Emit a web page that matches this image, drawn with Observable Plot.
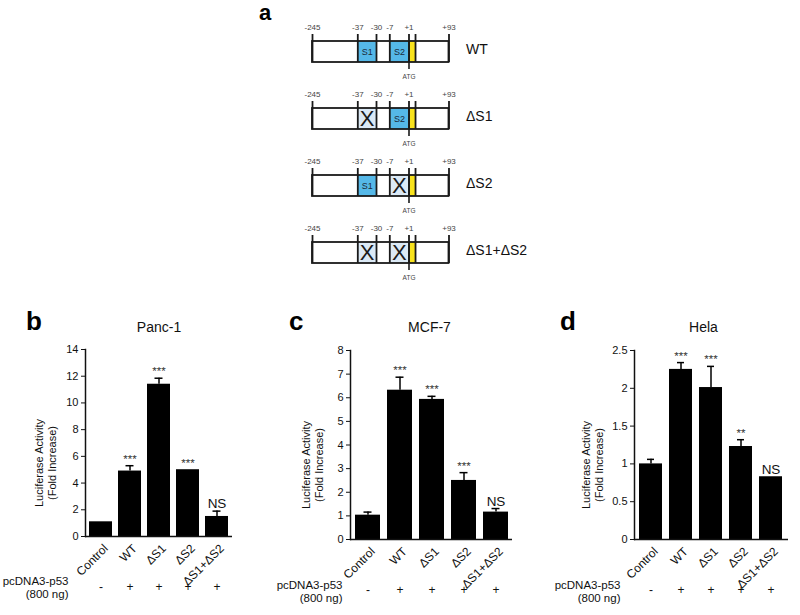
<!DOCTYPE html>
<html><head><meta charset="utf-8">
<script src="https://cdn.jsdelivr.net/npm/d3@7"></script>
<script src="https://cdn.jsdelivr.net/npm/@observablehq/plot@0.6"></script>
<style>
body{margin:0;background:#fff;font-family:"Liberation Sans",Arial,sans-serif;}
#fig{position:relative;width:800px;height:615px;overflow:hidden;background:#fff;}
.panel{position:absolute;}
.letter{position:absolute;font-weight:bold;line-height:1;color:#000;}
</style></head><body><div id="fig"></div>
<script>
// ---- panel a : promoter constructs ----
const constructs = ["WT","ΔS1","ΔS2","ΔS1+ΔS2"];
const s1Intact = [true,false,true,false];
const s2Intact = [true,true,false,false];
const boundaries = [-245,-37,-30,-7,1,93];
const boundaryLabels = ["-245","-37","-30","-7","+1","+93"];
const atgEnd = 16;

// ---- panels b-d : luciferase assays ----
const categories = ["Control","WT","ΔS1","ΔS2","ΔS1+ΔS2"];
const p53Signs = ["-","+","+","+","+"];
const panc1Mean = [1.1,4.9,11.4,5.0,1.5];
const panc1Err  = [0,0.4,0.45,0,0.4];
const panc1Sig  = ["","***","***","***","NS"];
const mcf7Mean  = [1.03,6.32,5.93,2.5,1.16];
const mcf7Err   = [0.13,0.55,0.13,0.33,0.15];
const mcf7Sig   = ["","***","***","***","NS"];
const helaMean  = [1.0,2.25,2.01,1.23,0.83];
const helaErr   = [0.06,0.09,0.28,0.09,0];
const helaSig   = ["","***","***","**","NS"];
const panc1Ticks = [0,2,4,6,8,10,12,14];
const mcf7Ticks  = [0,1,2,3,4,5,6,7,8];
const helaTicks  = [0,0.5,1,1.5,2,2.5];

const FONT = '"Liberation Sans", Arial, sans-serif';
const fig = document.getElementById("fig");

function place(el, left, top) {
  const wrap = document.createElement("div");
  wrap.className = "panel";
  wrap.style.left = left + "px";
  wrap.style.top = top + "px";
  wrap.appendChild(el);
  fig.appendChild(wrap);
}
function letter(t, left, top, size) {
  const d = document.createElement("div");
  d.className = "letter";
  d.textContent = t;
  d.style.left = left + "px";
  d.style.top = top + "px";
  d.style.fontSize = size + "px";
  fig.appendChild(d);
}

// ---------- Panel a ----------
const aRows = constructs.map((c,i)=>({row:c, s1:s1Intact[i], s2:s2Intact[i]}));
const segs = aRows.flatMap(d => [
  {row:d.row, x1:boundaries[1], x2:boundaries[2], intact:d.s1, name:"S1"},
  {row:d.row, x1:boundaries[3], x2:boundaries[4], intact:d.s2, name:"S2"}
]);
const edges = aRows.flatMap(d => [...boundaries, atgEnd].map(x=>({row:d.row, x})));
const bLabels = aRows.flatMap(d => boundaries.map((x,i)=>({row:d.row, x, label:boundaryLabels[i]})));

const panelA = Plot.plot({
  width: 800, height: 280, marginTop: 40, marginBottom: 17,
  style: {fontFamily: FONT, background: "transparent", color: "#000"},
  x: {type: "linear", domain: boundaries, range: [312,357.3,376,389.3,408.5,448.5], axis: null},
  y: {domain: constructs, paddingInner: 0.688, paddingOuter: 0, axis: null},
  marks: [
    Plot.barX(aRows, {y: "row", x1: () => boundaries[0], x2: () => boundaries[5], fill: "#fff"}),
    Plot.barX(segs, {y: "row", x1: "x1", x2: "x2", fill: d => d.intact ? "#55b8e8" : "#dbe9f5"}),
    Plot.barX(aRows, {y: "row", x1: () => boundaries[4], x2: () => atgEnd, fill: "#f8e21c"}),
    Plot.barX(aRows, {y: "row", x1: () => boundaries[0], x2: () => boundaries[5], fill: "none", stroke: "#1a1a1a", strokeWidth: 1.8}),
    Plot.tickX(edges, {x: "x", y: "row", stroke: "#1a1a1a", strokeWidth: 1.8, insetTop: -7}),
    Plot.tickX(aRows, {x: () => boundaries[4], y: "row", stroke: "#1a1a1a", strokeWidth: 1.6, insetBottom: -7}),
    Plot.text(segs.filter(d => d.intact), {x: d => (d.x1+d.x2)/2, y: "row", text: "name", fontSize: 9, fill: "#1b2a3a"}),
    Plot.text(segs.filter(d => !d.intact), {x: d => (d.x1+d.x2)/2, y: "row", text: () => "X", fontSize: 22, fill: "#1a1a1a"}),
    Plot.text(bLabels, {x: "x", y: "row", text: "label", dy: -25, fontSize: 8, fill: "#444"}),
    Plot.text(aRows, {x: () => boundaries[4], y: "row", text: () => "ATG", dy: 24.5, fontSize: 6.5, fill: "#444"}),
    Plot.text(aRows, {x: () => boundaries[5], y: "row", text: "row", textAnchor: "start", dx: 17, dy: -2, fontSize: 14, fill: "#111"})
  ]
});
place(panelA, 0, 0);
letter("a", 259, 2, 22);

// ---------- Panels b-d ----------
function barPanel(o) {
  const rows = categories.map((c,i)=>({cat:c, mean:o.mean[i], err:o.err[i], top:o.mean[i]+o.err[i], sig:o.sig[i], sign:p53Signs[i]}));
  const withErr = rows.filter(d => d.err > 0);
  return Plot.plot({
    width: o.width, height: 315,
    marginTop: o.marginTop, marginBottom: o.marginBottom, marginLeft: o.marginLeft, marginRight: o.marginRight,
    style: {fontFamily: FONT, fontSize: "11px", color: "#111", background: "transparent"},
    x: {domain: categories, paddingInner: 0.22, paddingOuter: 0.14},
    y: {domain: [0, o.yMax]},
    marks: [
      Plot.barY(rows, {x: "cat", y: "mean", fill: "#000"}),
      Plot.ruleX(withErr, {x: "cat", y1: "mean", y2: "top", stroke: "#000", strokeWidth: 1.5}),
      Plot.tickY(withErr, {x: "cat", y: "top", stroke: "#000", strokeWidth: 1.5, insetLeft: o.capInset, insetRight: o.capInset}),
      Plot.text(rows.filter(d => d.sig && d.sig !== "NS"), {x: "cat", y: "top", text: "sig", lineAnchor: "bottom", dy: -3, fontSize: 11.5, fill: "#333"}),
      Plot.text(rows.filter(d => d.sig === "NS"), {x: "cat", y: "top", text: "sig", lineAnchor: "bottom", dy: -3, fontSize: 13.5, fill: "#111"}),
      Plot.frame({anchor: "left", stroke: "#111", strokeWidth: 1.5}),
      Plot.ruleY([0], {stroke: "#111", strokeWidth: 1.5}),
      Plot.axisY({ticks: o.ticks, tickFormat: d => String(d), tickSize: 4, tickPadding: 3, fontSize: 11, label: null}),
      Plot.axisX({tickSize: 0, tickPadding: 8, tickRotate: -45, fontSize: 12, dx: 5, dy: 2, label: null}),
      Plot.text([o.title], {frameAnchor: "top", dy: o.titleDy, dx: o.titleDx, fontSize: 14, fill: "#111"}),
      Plot.text(["Luciferase Activity\n(Fold Increase)"], {y: () => o.yMax / 2, frameAnchor: "left", textAnchor: "middle", lineAnchor: "middle", rotate: -90, dx: o.labelDx, dy: 20, fontSize: 11, lineHeight: 1.15, fill: "#111"}),
      Plot.text(rows, {x: "cat", text: "sign", frameAnchor: "bottom", dy: 54, fontSize: 12, fill: "#111"}),
      Plot.text(["pcDNA3-p53\n(800 ng)"], {frameAnchor: "bottom-left", textAnchor: "end", dx: o.pcDx, dy: o.pcDy, fontSize: 11.5, lineHeight: 1.15, fill: "#111"})
    ]
  });
}

place(barPanel({mean: panc1Mean, err: panc1Err, sig: panc1Sig, title: "Panc-1", ticks: panc1Ticks, yMax: 14,
  width: 265, marginTop: 49, marginBottom: 79, marginLeft: 85, marginRight: 33,
  capInset: 7.5, labelDx: -40, pcDx: -17, pcDy: 61.5, titleDx: 0, titleDy: -27}), 0, 300);
place(barPanel({mean: mcf7Mean, err: mcf7Err, sig: mcf7Sig, title: "MCF-7", ticks: mcf7Ticks, yMax: 8,
  width: 270, marginTop: 50, marginBottom: 76, marginLeft: 85, marginRight: 23,
  capInset: 8.5, labelDx: -38, pcDx: -8, pcDy: 62.5, titleDx: -2, titleDy: -28}), 265, 300);
place(barPanel({mean: helaMean, err: helaErr, sig: helaSig, title: "Hela", ticks: helaTicks, yMax: 2.5,
  width: 265, marginTop: 50, marginBottom: 76, marginLeft: 99, marginRight: 12,
  capInset: 8, labelDx: -42, pcDx: -14, pcDy: 62.5, titleDx: -8, titleDy: -28}), 535, 300);

letter("b", 26, 308, 26);
letter("c", 289, 308, 26);
letter("d", 560, 308, 26);
</script></body></html>
